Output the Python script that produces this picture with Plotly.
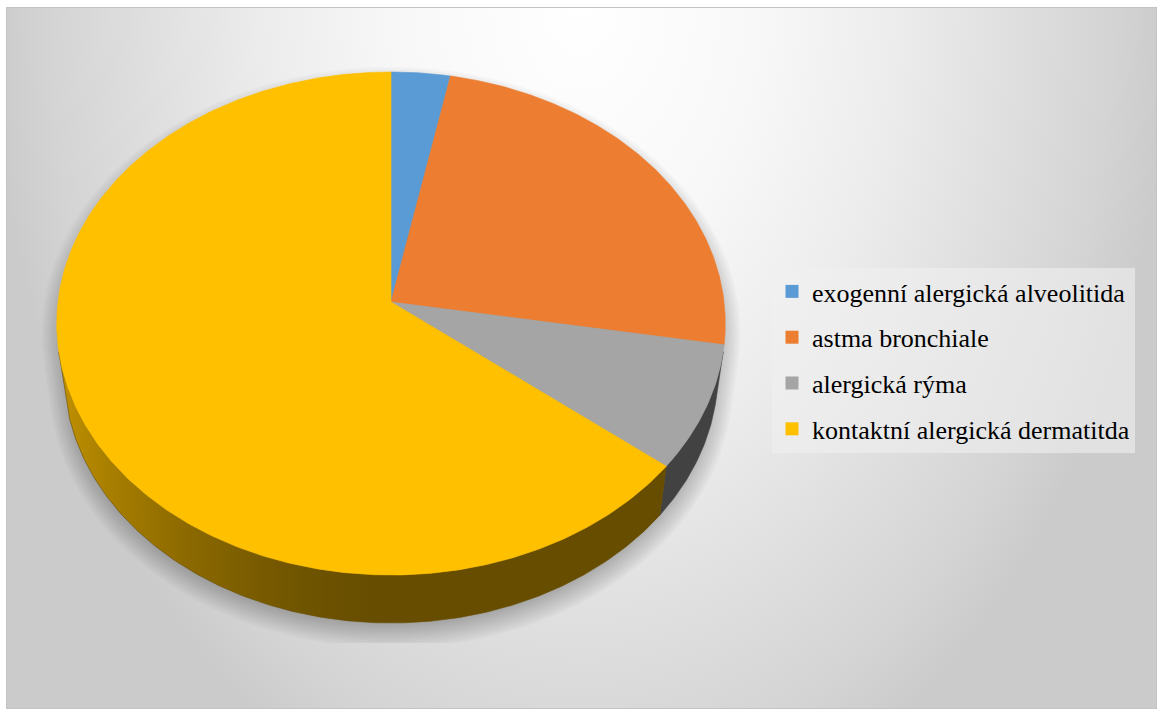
import base64
import math

import numpy as np
import plotly.graph_objects as go

# ---- data -------------------------------------------------------------
categories = [
    "exogenní alergická alveolitida",
    "astma bronchiale",
    "alergická rýma",
    "kontaktní alergická dermatitda",
]
values = [3.1, 24.6, 8.0, 64.3]
colors = ["#5b9bd5", "#ed7d31", "#a5a5a5", "#ffc000"]

# ---- figure / camera settings ------------------------------------------
W, H = 1158, 711
PLOT_X = (35, 745)      # plot-area rectangle in pixels
PLOT_Y = (30, 643)
CX, CY = 391.0, 302.0   # screen position of the pie centre
K = 2578.0              # focal scale
D = 7.74                # camera distance (pie radius = 1)
ALPHA = math.radians(48.56)
S, C = math.sin(ALPHA), math.cos(ALPHA)
THICK = 0.2316          # pie thickness


def project(theta_deg, yw):
    """Perspective projection of a rim point (angle clockwise from the back)."""
    t = np.radians(theta_deg)
    X = np.sin(t)
    Z = -np.cos(t)
    depth = D - (yw * S + Z * C)
    xc = X
    yc = yw * C - Z * S
    return CX + K * xc / depth, CY - K * yc / depth


def arc(a, b, yw, step=0.5):
    n = max(2, int(abs(b - a) / step) + 1)
    th = np.linspace(a, b, n)
    return project(th, yw)


def shade(theta_deg):
    s = -math.sin(math.radians(theta_deg))
    return 0.4 + 0.37 * max(0.0, s) ** 1.6


def scaled(hex_color, f):
    h = hex_color.lstrip("#")
    r, g, b = (int(h[i:i + 2], 16) for i in (0, 2, 4))
    return f"rgb({round(r * f)},{round(g * f)},{round(b * f)})"


total = sum(values)
spans = [v / total * 360.0 for v in values]
starts = np.concatenate([[0.0], np.cumsum(spans)[:-1]])

# range of angles where the cylinder wall faces the camera
VIS_LO = math.degrees(math.acos(-1.0 / (D * C)))
VIS_HI = 360.0 - VIS_LO

fig = go.Figure()

# ---- soft drop shadow (clipped by the plot area) -----------------------
bx, by = arc(VIS_LO, VIS_HI, -THICK)
tx, ty = arc(VIS_HI, 360.0 + VIS_LO, 0.0)
sil_x = np.concatenate([bx, tx])
sil_y = np.concatenate([by, ty])
ccx, ccy = sil_x.mean(), (sil_y.max() + sil_y.min()) / 2
rad = np.hypot(sil_x - ccx, sil_y - ccy)
n_layers, blur, drop = 14, 15.0, 10.0
for g in np.linspace(-blur, blur, n_layers):
    f = 1 + g / rad
    fig.add_trace(go.Scatter(
        x=ccx + (sil_x - ccx) * f,
        y=ccy + (sil_y - ccy) * f + drop,
        mode="lines", fill="toself", line=dict(width=0),
        fillcolor="rgba(0,0,0,0.022)", hoverinfo="skip", showlegend=False,
    ))

# ---- cylinder walls ----------------------------------------------------
for a, span, col in zip(starts, spans, colors):
    lo, hi = max(a, VIS_LO), min(a + span, VIS_HI)
    if lo >= hi:
        continue
    x1, y1 = arc(lo, hi, 0.0)
    x2, y2 = arc(hi, lo, -THICK)
    xs = np.concatenate([x1, x2, x1[:1]])
    ys = np.concatenate([y1, y2, y1[:1]])
    th = np.linspace(lo, hi, 80)
    px, _ = project(th, 0.0)
    order = np.argsort(px)
    xmin, xmax = px.min(), px.max()
    stops, last = [], -1.0
    for i in order:
        pos = (px[i] - xmin) / (xmax - xmin) if xmax > xmin else 0.0
        if pos - last < 1e-4:
            continue
        stops.append([pos, scaled(col, shade(th[i]))])
        last = pos
    stops[0][0] = 0.0
    stops[-1][0] = 1.0
    fig.add_trace(go.Scatter(
        x=xs, y=ys, mode="lines", fill="toself",
        line=dict(width=0.6, color=scaled(col, 0.4)),
        fillcolor=scaled(col, 0.4),
        fillgradient=dict(type="horizontal", colorscale=stops,
                          start=xmin, stop=xmax),
        hoverinfo="skip", showlegend=False,
    ))

# ---- top faces ---------------------------------------------------------
for name, a, span, col in zip(categories, starts, spans, colors):
    rx, ry = arc(a, a + span, 0.0)
    xs = np.concatenate([[CX], rx, [CX]])
    ys = np.concatenate([[CY], ry, [CY]])
    fig.add_trace(go.Scatter(
        x=xs, y=ys, mode="lines", fill="toself",
        line=dict(width=0.6, color=col), fillcolor=col,
        name=name, hoverinfo="name", showlegend=False,
    ))

# ---- legend entries ----------------------------------------------------
for name, col in zip(categories, colors):
    fig.add_trace(go.Scatter(
        x=[None], y=[None], mode="markers", name=name, legendgroup=name,
        marker=dict(symbol="square", size=13, color=col),
    ))

# ---- background --------------------------------------------------------
svg = f"""<svg xmlns="http://www.w3.org/2000/svg" width="{W}" height="{H}" viewBox="0 0 {W} {H}">
<defs><radialGradient id="bg" gradientUnits="userSpaceOnUse" cx="580" cy="0" r="590"
 gradientTransform="translate(580 0) scale(1 1.45) translate(-580 0)">
<stop offset="0" stop-color="#ffffff"/><stop offset="0.3" stop-color="#f8f8f8"/>
<stop offset="0.54" stop-color="#ececec"/><stop offset="0.72" stop-color="#e0e0e0"/>
<stop offset="0.9" stop-color="#d4d4d4"/><stop offset="1" stop-color="#cbcbcb"/>
</radialGradient></defs>
<rect width="{W}" height="{H}" fill="#ffffff"/>
<rect x="6.5" y="7.5" width="1150" height="701" fill="url(#bg)" stroke="#c4c4c4" stroke-width="1"/>
</svg>"""
bg_src = "data:image/svg+xml;base64," + base64.b64encode(svg.encode()).decode()

fig.update_layout(
    width=W, height=H, autosize=False,
    margin=dict(l=0, r=0, t=0, b=0, pad=0),
    paper_bgcolor="white", plot_bgcolor="rgba(0,0,0,0)",
    images=[dict(source=bg_src, xref="paper", yref="paper", x=0, y=1,
                 sizex=1, sizey=1, xanchor="left", yanchor="top",
                 sizing="stretch", layer="below")],
    xaxis=dict(domain=[PLOT_X[0] / W, PLOT_X[1] / W], range=list(PLOT_X),
               visible=False, fixedrange=True),
    yaxis=dict(domain=[1 - PLOT_Y[1] / H, 1 - PLOT_Y[0] / H],
               range=[PLOT_Y[1], PLOT_Y[0]], visible=False, fixedrange=True),
    showlegend=True,
    legend=dict(
        x=772 / W, y=1 - 268 / H, xanchor="left", yanchor="top",
        bgcolor="rgba(240,240,240,0.6)", borderwidth=0,
        font=dict(family="Liberation Serif", size=26, color="#000000"),
        tracegroupgap=9, itemsizing="trace",
    ),
    hovermode="closest",
)

fig.write_html("out.html")
